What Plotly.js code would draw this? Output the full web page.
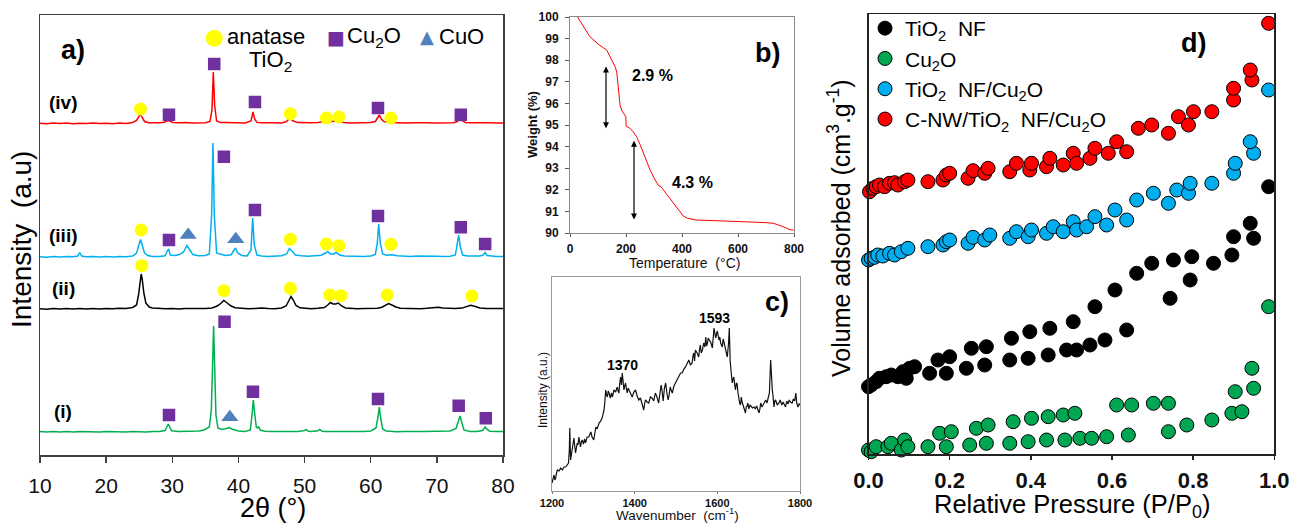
<!DOCTYPE html>
<html>
<head>
<meta charset="utf-8">
<script src="https://cdn.plot.ly/plotly-3.0.1.min.js"></script>
<style>html,body{margin:0;padding:0;background:#fff;}#chart{width:1292px;height:523px;}</style>
</head>
<body>
<div id="chart"></div>
<script>
// ---------- Panel a: XRD patterns (2theta, intensity with stacking offset) ----------
const xrd_i = [[10,23.5],[11,23.0],[12,23.6],[13,23.1],[14,23.4],[15,22.9],[16,23.5],[17,23.2],[18,23.6],[19,23.0],[20,23.4],[21,23.2],[22,23.7],[23,23.1],[24,23.5],[25,23.3],[26,23.0],[27,23.6],[28,23.4],[28.9,24.5],[29.2,28],[29.4,31],[29.6,28],[29.9,24.3],[31,23.5],[32,23.8],[33,23.4],[34,24.0],[34.8,25.0],[35.3,27],[35.6,28],[35.9,45],[36.1,100],[36.25,129],[36.4,90],[36.6,40],[36.9,27],[37.5,25.5],[38.2,26.5],[38.6,27.5],[39.0,26],[40,24.0],[41,23.6],[41.8,25],[42.05,40],[42.25,55],[42.45,42],[42.7,28],[42.9,27],[43.05,28.5],[43.3,25],[44,23.7],[45,23.4],[46,23.6],[47,23.2],[48,23.5],[49,23.4],[50.0,24.5],[50.2,25.5],[50.5,24],[51,23.5],[52,24.2],[52.3,25.5],[52.6,24.0],[53,23.5],[54,23.4],[55,23.6],[56,23.2],[57,23.5],[58,23.3],[59,23.6],[60,24],[60.8,27],[61.1,38],[61.3,48],[61.5,37],[61.8,26],[62.3,24],[63,23.5],[64,23.3],[65,23.6],[66,23.2],[67,23.5],[68,23.4],[69,23.6],[70,23.2],[71,23.5],[72,24],[72.9,26.5],[73.3,36],[73.5,39],[73.7,34],[74.1,25],[75,23.5],[76,23.6],[76.9,24.5],[77.3,28],[77.6,25.5],[78,23.8],[79,23.4],[80,23.5]];
const xrd_ii = [[10,146.3],[11,145.8],[12,146.5],[13,146.0],[14,146.4],[15,145.9],[16,146.5],[17,146.1],[18,146.6],[19,146.0],[20,146.5],[21,146.2],[22,146.7],[23,146.5],[24,147.5],[24.6,150],[24.9,160],[25.15,175],[25.3,181],[25.45,176],[25.7,162],[26.0,152],[26.5,148],[27,147],[28,146.5],[29,146.2],[30,146.6],[31,146.1],[32,146.5],[33,146.3],[34,146.6],[35,146.4],[36,147],[36.8,149],[37.4,152],[37.8,154.5],[38.3,152],[38.9,149],[39.5,147.3],[40.5,146.5],[41.5,146.2],[42.5,146.6],[43.5,147.0],[44.5,146.5],[45.5,146.3],[46.5,147],[47.2,149],[47.6,154],[47.95,158.5],[48.3,155],[48.7,149.5],[49.3,147.2],[50,146.6],[51,146.3],[52,146.7],[53,147.5],[53.5,150],[53.9,152.5],[54.3,151],[54.7,151],[55.1,152],[55.6,149],[56.2,147],[57,146.5],[58,146.3],[59,146.6],[60,146.4],[61,146.8],[61.7,147.8],[62.3,150],[62.7,151.5],[63.2,150],[63.8,148],[64.5,146.8],[65.5,146.4],[66.5,146.6],[67.5,146.3],[68.5,146.7],[69.5,147.2],[70.2,147.8],[70.9,147.0],[71.8,146.5],[72.8,146.6],[73.8,146.9],[74.5,148.3],[75.1,149.8],[75.7,148.8],[76.5,147],[77.5,146.5],[78.5,146.3],[79.3,146.6],[80,146.4]];
const xrd_iii = [[10,198.3],[11,197.8],[12,198.5],[13,198.0],[14,198.4],[15,198.2],[15.7,199],[16.0,202.5],[16.3,199],[17,198.2],[18,198.5],[19,198.0],[20,198.4],[21,198.1],[22,198.6],[23,198.3],[24,199],[24.6,202],[24.95,210],[25.2,215.5],[25.45,210],[25.8,202],[26.3,199.5],[27,198.6],[28,198.4],[28.9,199.2],[29.25,204],[29.45,206],[29.7,200],[30.3,199.5],[31.0,200.2],[31.7,203],[32.2,209.5],[32.6,206],[33.1,200.5],[34,199.3],[35,199.6],[35.6,201],[35.95,240],[36.15,312],[36.35,240],[36.7,202],[37.3,200.5],[38.0,199.5],[38.9,200.3],[39.3,204],[39.55,207],[39.9,202],[40.5,199.5],[41.3,199],[41.9,205],[42.15,237],[42.4,210],[42.8,200],[43.5,199],[44.5,198.6],[45.5,198.9],[46.5,199.2],[47.3,201],[47.7,206.5],[48.1,204],[48.6,200],[49.5,199.3],[50.5,198.8],[51.5,199.3],[52.5,199.8],[53.2,202],[53.5,203.5],[53.9,201],[54.4,201],[54.8,202.5],[55.3,200],[56,199],[57,198.7],[58,198.9],[59,198.6],[60,199],[60.7,200.5],[61.0,212],[61.2,231],[61.45,212],[61.8,201],[62.4,199.8],[63.2,200.2],[64,199.2],[65,198.8],[66,198.5],[67,198.9],[68,198.6],[69,198.4],[70,198.7],[71,198.5],[72,198.8],[72.8,200],[73.1,210],[73.3,220],[73.55,208],[73.9,200],[74.6,199],[75.5,198.8],[76.5,199],[77.0,200],[77.3,202.5],[77.6,199.5],[78.3,198.6],[79,198.4],[80,198.6]];
const xrd_iv = [[10,331.8],[11,331.2],[12,332.0],[13,331.4],[14,331.9],[15,331.3],[16,331.8],[17,331.5],[18,332.0],[19,331.4],[20,331.8],[21,331.3],[22,331.9],[23,331.6],[24,332.5],[24.6,334.5],[24.95,338.5],[25.2,340.5],[25.45,337.5],[25.8,333.5],[26.4,332.3],[27,332],[28,332.2],[28.8,332.8],[29.3,334.5],[29.6,334],[30.1,332.5],[31,332.2],[32,332.6],[33,332.1],[34,332.4],[35,332.3],[35.7,333.5],[36.0,345],[36.2,383],[36.4,350],[36.7,334],[37.3,332.4],[38,332.6],[39,332.2],[40,332.4],[41,332.1],[41.9,334],[42.2,343],[42.45,336],[42.8,332.6],[43.5,332.3],[44.5,331.9],[45.5,332.2],[46.5,332],[47.2,333.2],[47.75,336.5],[48.3,334],[49,332.4],[50,332],[51,332.3],[52,332.6],[52.7,333.2],[53.5,334],[54.2,333.6],[54.8,334],[55.4,333.2],[56,332.4],[57,332.1],[58,332.3],[59,332],[60,332.4],[60.7,333.5],[61.1,337.5],[61.3,340],[61.6,336],[62,333.5],[62.8,332.5],[63.5,332.2],[64.5,332.4],[65.5,332],[66.5,332.3],[67.5,331.9],[68.5,332.2],[69.5,332],[70.5,332.3],[71.5,331.9],[72.5,332.3],[73.1,333.5],[73.45,336.5],[73.8,334.5],[74.3,332.6],[75,332.2],[76,332.4],[77,332],[78,332.3],[79,331.9],[80,332.1]];
// phase markers (2theta, height)
const anataseX = [25.2,47.85,53.3,55.2,63.05, 25.3,47.85,53.3,55.2,63.05, 25.4,37.8,47.85,53.8,55.5,62.5,75.3];
const anataseY = [346,341.3,337,338,337, 225,215.7,211,209.3,210.7, 189.3,164.3,166.7,160,159.3,160,159];
const cu2oX = [29.5,36.34,42.5,61.1,73.62, 29.5,37.8,42.5,61.1,73.62,77.3, 29.5,37.9,42.2,61.1,73.3,77.4];
const cu2oY = [340.3,391,353,347,340.3, 215,298.3,245,239,227.7,211, 40,133.3,63.3,56,49.3,36.7];
const cuoX = [32.4,39.6,38.7];
const cuoY = [220,215.7,37.7];
const xrdLabels = ['(iv)','(iii)','(ii)','(i)'];
const xrdLabelY = [352,219,167,44];

// ---------- Panel b: TGA ----------
const tgaT = [27,45,71,100,131,149,161,167,170,174,179,186,196,199.5,200.5,205,214,226,238,250,262,274,286,300,316,325,333,350,369,387,405,420,440,452,500,550,607,650,700,726,745,760,774,785,798];
const tgaW = [100,99.6,99.09,98.75,98.47,98.01,97.7,97.45,97.1,96.5,95.9,95.65,95.46,95.38,94.95,94.92,94.85,94.68,94.46,94.1,93.69,93.3,92.92,92.55,92.2,92.14,92.0,91.7,91.37,91.05,90.78,90.68,90.62,90.6,90.58,90.56,90.53,90.52,90.48,90.45,90.38,90.3,90.22,90.16,90.13];
const tgaSteps = ['2.9 %','4.3 %'];

// ---------- Panel c: Raman ----------
const raman = [[1200,6],[1203,12],[1205,14],[1207,9],[1209,11],[1211,16],[1213,19],[1217,18],[1221,21],[1225,19],[1229,22],[1233,22],[1236,24],[1240,26],[1242,40],[1243,61],[1245,29],[1247,34],[1249,39],[1251,46],[1253,51],[1255,43],[1257,36],[1259,41],[1261,46],[1263,44],[1265,52],[1267,47],[1269,42],[1271,47],[1273,49],[1276,45],[1279,50],[1281,46],[1285,52],[1289,52],[1292,55],[1294,57],[1297,52],[1301,49],[1304,57],[1306,62],[1309,60],[1314,66],[1318,68],[1322,72],[1324,76],[1326,79],[1328,88],[1330,99],[1332,94],[1334,92],[1336,98],[1338,96],[1341,91],[1344,96],[1346,92],[1350,99],[1354,97],[1358,102],[1360,98],[1362,96],[1364,106],[1366,112],[1368,104],[1370,116],[1372,108],[1374,99],[1376,103],[1378,106],[1380,100],[1382,96],[1384,101],[1386,99],[1390,95],[1394,92],[1398,97],[1402,99],[1406,93],[1410,89],[1414,91],[1418,86],[1420,83],[1422,79],[1424,85],[1426,89],[1430,87],[1434,86],[1438,92],[1442,91],[1446,88],[1450,96],[1454,92],[1458,86],[1461,95],[1464,104],[1466,99],[1469,88],[1472,101],[1475,106],[1478,96],[1481,89],[1483,93],[1486,102],[1489,98],[1491,96],[1495,103],[1499,106],[1503,109],[1507,112],[1511,116],[1515,116],[1519,120],[1523,122],[1527,126],[1531,129],[1535,124],[1539,126],[1541,133],[1543,136],[1545,128],[1547,139],[1551,136],[1555,132],[1557,140],[1559,144],[1561,136],[1564,139],[1567,146],[1570,142],[1572,152],[1574,143],[1576,146],[1578,151],[1580,149],[1584,147],[1588,141],[1590,150],[1592,161],[1594,156],[1596,151],[1600,158],[1604,149],[1606,152],[1608,146],[1612,142],[1614,150],[1616,147],[1620,139],[1624,132],[1627,145],[1629,161],[1631,128],[1633,118],[1636,106],[1638,110],[1640,112],[1642,104],[1644,99],[1646,106],[1648,105],[1650,96],[1652,89],[1654,86],[1656,84],[1658,92],[1660,87],[1663,82],[1666,78],[1668,76],[1670,82],[1672,83],[1674,86],[1676,80],[1679,84],[1682,82],[1685,81],[1689,82],[1692,80],[1695,83],[1698,79],[1701,76],[1703,80],[1705,86],[1708,82],[1711,84],[1714,86],[1717,89],[1720,86],[1723,92],[1726,96],[1729,129],[1731,110],[1733,99],[1735,92],[1737,82],[1739,88],[1741,89],[1745,84],[1749,86],[1752,89],[1756,84],[1759,87],[1762,84],[1765,82],[1768,88],[1771,85],[1774,89],[1777,87],[1781,86],[1784,90],[1787,88],[1790,96],[1792,86],[1795,82],[1798,85],[1800,84]];
const ramanPeaks = [1370,1593];
const ramanPeakY = [124,171];

// ---------- Panel d: N2 isotherms (P/P0, volume with offset) ----------
const tio2P = [0.0,0.0066,0.0189,0.027,0.0436,0.056,0.0724,0.0848,0.093,0.1012,0.1136,0.1506,0.1712,0.1918,0.2,0.2412,0.2535,0.2864,0.2905,0.3481,0.3523,0.3934,0.3975,0.4428,0.4469,0.4881,0.5045,0.5128,0.5457,0.558,0.5827,0.6074,0.6362,0.6609,0.698,0.7432,0.7514,0.7926,0.7967,0.8502,0.8955,0.8996,0.9407,0.949,0.986];
const tio2V = [67.3,69,72.3,75.7,77.3,79,77.3,82.3,75.7,85.7,87.3,80.7,94,80.7,97.3,85.7,105.7,89,107.3,94,115.7,95.7,122.3,99,125.7,104,132.3,104,109,147.3,114,164,124,180.7,190.7,155.7,194,174,197.3,190.7,199,217.3,230.7,215.7,267.3];
const cu2oP = [0.0,0.0066,0.0189,0.0477,0.056,0.0807,0.0889,0.0971,0.1465,0.1753,0.1918,0.2041,0.2494,0.2658,0.2905,0.2947,0.3481,0.3564,0.3934,0.4016,0.4387,0.4428,0.484,0.4798,0.5086,0.521,0.5498,0.5868,0.6115,0.6403,0.6486,0.702,0.7391,0.7391,0.7844,0.8461,0.8955,0.9037,0.9202,0.949,0.9449,0.986];
const cu2oV = [4,2.3,7.3,7.3,10.7,4,14,7.3,7.3,20.7,7.3,22.3,9,25.7,10.7,29,10.7,32.3,12.3,35.7,14,37.3,14,39,40.7,15.7,15.7,17.3,49,19,49,50.7,22.3,50.7,29,34,40.7,62.3,42.3,65.7,85.7,147.3];
const compP = [0.0,0.0066,0.0148,0.023,0.0354,0.0519,0.0642,0.0807,0.0971,0.1465,0.1835,0.1918,0.2,0.2453,0.2576,0.2864,0.2988,0.3481,0.3646,0.3934,0.4016,0.4387,0.4551,0.4798,0.5045,0.5128,0.5374,0.558,0.5868,0.6074,0.6362,0.6609,0.702,0.7391,0.7597,0.7885,0.7926,0.8461,0.8996,0.9037,0.949,0.9407,0.986];
const compV = [194,195.7,196.7,199,198,200.7,199,202.3,205.7,207.3,209,212.3,214,210.7,216.7,214,219,215.7,222.3,217.3,224,220.7,227.3,222.3,232.3,224,227.3,237.3,229,244,234,254,260.7,250.7,264,260.7,270.7,270.7,280.7,290.7,300.7,312.3,364];
const cnwP = [0.0025,0.0107,0.0189,0.027,0.0395,0.0519,0.0642,0.0724,0.0889,0.0971,0.1465,0.1835,0.1918,0.2,0.2453,0.2576,0.2864,0.2947,0.3481,0.3646,0.3975,0.4016,0.4387,0.4469,0.4798,0.5045,0.5128,0.5457,0.558,0.5909,0.6115,0.6362,0.665,0.698,0.7391,0.7638,0.7885,0.8008,0.8461,0.8996,0.8996,0.9449,0.9407,0.986];
const cnwV = [262.3,265.7,267.3,269,267.3,270.7,271.3,269,272.3,274,272.3,274,279,280.7,275.7,283.3,280.7,285.7,282.3,290.7,284,290.7,287.3,295.7,289,300.7,290.7,295.7,305.7,300.7,312.3,302.3,325.7,329,320.7,337.3,329,342.3,342.3,354,365.7,374,384,430.7];
const seriesNames = ['TiO<sub>2</sub>\u00a0 NF','Cu<sub>2</sub>O','TiO<sub>2</sub>\u00a0 NF/Cu<sub>2</sub>O','C-NW/TiO<sub>2</sub>\u00a0 NF/Cu<sub>2</sub>O'];

// ---------- build ----------
const FONT = 'Liberation Sans, Arial, Helvetica, sans-serif';
const col = p => p.map(v => v[0]);
const val = p => p.map(v => v[1]);
const traces = [];
function line(p, color, xa, ya, w) {
  traces.push({x: col(p), y: val(p), mode: 'lines', line: {color: color, width: w || 1.5}, xaxis: xa, yaxis: ya, showlegend: false, hoverinfo: 'skip'});
}
line(xrd_iv, '#ff0000', 'x', 'y');
line(xrd_iii, '#00b0f0', 'x', 'y');
line(xrd_ii, '#000000', 'x', 'y');
line(xrd_i, '#00b050', 'x', 'y');
traces.push({x: anataseX, y: anataseY, mode: 'markers', marker: {symbol: 'circle', size: 13, color: '#ffff00'}, xaxis: 'x', yaxis: 'y', showlegend: false, cliponaxis: false});
traces.push({x: cu2oX, y: cu2oY, mode: 'markers', marker: {symbol: 'square', size: 11, color: '#7030a0', line: {color: '#7030a0', width: 1.5}}, xaxis: 'x', yaxis: 'y', showlegend: false, cliponaxis: false});
traces.push({x: cuoX, y: cuoY, mode: 'markers', marker: {symbol: 'triangle-up', size: 15, color: '#4f81bd'}, xaxis: 'x', yaxis: 'y', showlegend: false, cliponaxis: false});
traces.push({x: tgaT, y: tgaW, mode: 'lines', line: {color: '#ff0000', width: 1}, xaxis: 'x2', yaxis: 'y2', showlegend: false});
traces.push({x: col(raman), y: val(raman), mode: 'lines', line: {color: '#111111', width: 1.2}, xaxis: 'x3', yaxis: 'y3', showlegend: false});
const dSeries = [[tio2P, tio2V, '#000000'], [cu2oP, cu2oV, '#00a651'], [compP, compV, '#00aeef'], [cnwP, cnwV, '#ff0000']];
dSeries.forEach((s, i) => {
  traces.push({x: s[0], y: s[1], mode: 'markers', name: seriesNames[i], legendgroup: 'g' + i,
    marker: {symbol: 'circle', size: 14, color: s[2], line: {color: '#000000', width: 1}},
    xaxis: 'x4', yaxis: 'y4', cliponaxis: false});
});

const W = 1292, H = 523;
const px = x => x / W, py = y => 1 - y / H;
const frame = (c, w) => ({showline: true, mirror: true, linecolor: c, linewidth: w, showgrid: false, zeroline: false});
const ann = [];
function A(o) { ann.push(Object.assign({showarrow: false, xanchor: 'center', yanchor: 'middle', font: {family: FONT, size: 14, color: '#000'}}, o)); }

// panel a texts
A({xref: 'x', yref: 'y', x: 15, y: 405, text: 'a)', font: {family: FONT, size: 27, color: '#000', weight: 700}});
xrdLabels.forEach((t, i) => A({xref: 'x', yref: 'y', x: 13.5, y: xrdLabelY[i], text: t, font: {family: FONT, size: 19, color: '#000', weight: 700}}));
A({xref: 'x', yref: 'y', x: 36.4, y: 418, text: '●', font: {family: 'DejaVu Sans', size: 22, color: '#ffff00'}});
A({xref: 'x', yref: 'y', x: 44.2, y: 418, text: 'anatase', font: {family: FONT, size: 22, color: '#000'}});
A({xref: 'x', yref: 'y', x: 44.9, y: 394, text: 'TiO<sub>2</sub>', font: {family: FONT, size: 22, color: '#000'}});
A({xref: 'x', yref: 'y', x: 54.7, y: 418, text: '■', font: {family: 'DejaVu Sans', size: 19, color: '#7030a0'}});
A({xref: 'x', yref: 'y', x: 60.5, y: 418, text: 'Cu<sub>2</sub>O', font: {family: FONT, size: 22, color: '#000'}});
A({xref: 'x', yref: 'y', x: 68.5, y: 418, text: '▲', font: {family: 'DejaVu Sans', size: 18, color: '#4f81bd'}});
A({xref: 'x', yref: 'y', x: 73.65, y: 418, text: 'CuO', font: {family: FONT, size: 22, color: '#000'}});
A({xref: 'paper', yref: 'paper', x: px(272.5), y: py(508), text: '2θ (°)', font: {family: FONT, size: 27, color: '#000'}});
A({xref: 'paper', yref: 'paper', x: px(22), y: py(240), text: 'Intensity  (a.u)', textangle: -90, font: {family: FONT, size: 28, color: '#000'}});

// panel b texts
A({xref: 'x2', yref: 'y2', x: 296, y: 97.27, text: tgaSteps[0], font: {family: FONT, size: 16, color: '#000', weight: 700}});
A({xref: 'x2', yref: 'y2', x: 439, y: 92.36, text: tgaSteps[1], font: {family: FONT, size: 16, color: '#000', weight: 700}});
A({xref: 'x2', yref: 'y2', x: 704, y: 98.33, text: 'b)', font: {family: FONT, size: 27, color: '#000', weight: 700}});
const arrow = (x, y0, y1) => ({xref: 'x2', yref: 'y2', axref: 'x2', ayref: 'y2', x: x, y: y1, ax: x, ay: y0, text: '', showarrow: true,
  arrowhead: 2, startarrowhead: 2, arrowside: 'end+start', arrowsize: 1, startarrowsize: 1, arrowwidth: 1.2, arrowcolor: '#000'});
ann.push(arrow(128.6, 97.78, 94.85));
ann.push(arrow(228.6, 94.34, 90.63));
A({xref: 'paper', yref: 'paper', x: px(532), y: py(125), text: 'Weight (%)', textangle: -90, font: {family: FONT, size: 13, color: '#111', weight: 700}});
A({xref: 'paper', yref: 'paper', x: px(684), y: py(263), text: 'Temperature  (°C)', font: {family: FONT, size: 14, color: '#111'}});

// panel c texts
ramanPeaks.forEach((p, i) => A({xref: 'x3', yref: 'y3', x: p, y: ramanPeakY[i], text: String(p), font: {family: FONT, size: 14, color: '#000', weight: 700}}));
A({xref: 'x3', yref: 'y3', x: 1744, y: 187, text: 'c)', font: {family: FONT, size: 27, color: '#000', weight: 700}});
A({xref: 'paper', yref: 'paper', x: px(543), y: py(390), text: 'Intensity (a.u.)', textangle: -90, font: {family: FONT, size: 12, color: '#111'}});
A({xref: 'paper', yref: 'paper', x: px(678), y: py(514), text: 'Wavenumber  (cm<sup>-1</sup>)', font: {family: FONT, size: 13.5, color: '#111'}});

// panel d texts
A({xref: 'x4', yref: 'y4', x: 0.80, y: 411, text: 'd)', font: {family: FONT, size: 27, color: '#000', weight: 700}});
A({xref: 'paper', yref: 'paper', x: px(1072), y: py(506), text: 'Relative Pressure (P/P<sub>0</sub>)', font: {family: FONT, size: 25.5, color: '#000'}});
A({xref: 'paper', yref: 'paper', x: px(839), y: py(228), text: 'Volume adsorbed (cm<sup>3</sup>.g<sup>-1</sup>)', textangle: -90, font: {family: FONT, size: 25, color: '#000'}});

const layout = {
  width: W, height: H, margin: {l: 0, r: 0, t: 0, b: 0}, paper_bgcolor: '#fff', plot_bgcolor: 'rgba(0,0,0,0)',
  font: {family: FONT, color: '#000'},
  showlegend: true,
  legend: {x: px(865), y: py(8), xanchor: 'left', yanchor: 'top', bgcolor: 'rgba(0,0,0,0)', traceorder: 'grouped', tracegroupgap: 0,
    itemwidth: 30, font: {family: FONT, size: 21, color: '#000'}},
  xaxis: Object.assign(frame('#404040', 1.5), {domain: [px(40), px(503)], anchor: 'y', range: [10, 80], dtick: 10, ticks: 'outside', ticklen: 6, tickwidth: 1.5, tickcolor: '#404040', tickfont: {family: FONT, size: 21, color: '#111'}, ticklabelstandoff: 5}),
  yaxis: Object.assign(frame('#404040', 1.5), {domain: [py(455), py(15)], anchor: 'x', range: [0, 440], showticklabels: false, ticks: ''}),
  xaxis2: Object.assign(frame('#8a8a8a', 1), {domain: [px(570), px(794)], anchor: 'y2', range: [0, 800], dtick: 200, ticks: 'outside', ticklen: 3, tickcolor: '#555', tickfont: {family: FONT, size: 12, color: '#111', weight: 700}, ticklabelstandoff: 2}),
  yaxis2: Object.assign(frame('#8a8a8a', 1), {domain: [py(233), py(17)], anchor: 'x2', range: [90, 100], dtick: 1, ticks: 'outside', ticklen: 4, tickcolor: '#555', tickfont: {family: FONT, size: 12, color: '#111', weight: 700}, ticklabelstandoff: 4}),
  xaxis3: Object.assign(frame('#9a9a9a', 1), {domain: [px(552), px(800)], anchor: 'y3', range: [1200, 1800], dtick: 200, ticks: 'outside', ticklen: 2, tickcolor: '#777', tickfont: {family: FONT, size: 11, color: '#111', weight: 700}, ticklabelstandoff: 0}),
  yaxis3: Object.assign(frame('#9a9a9a', 1), {domain: [py(490.7), py(277.3)], anchor: 'x3', range: [-1.7, 211.7], showticklabels: false, ticks: ''}),
  xaxis4: Object.assign(frame('#222', 1.5), {domain: [px(868.5), px(1274.3)], anchor: 'y4', range: [0, 1], dtick: 0.2, tickformat: '.1f', ticks: 'outside', ticklen: 4, tickwidth: 1.5, tickcolor: '#222', tickfont: {family: FONT, size: 22, color: '#111', weight: 700}, ticklabelstandoff: 2}),
  yaxis4: Object.assign(frame('#222', 1.5), {domain: [py(454), py(14)], anchor: 'x4', range: [0, 440], showticklabels: false, ticks: ''}),
  annotations: ann
};
Plotly.newPlot('chart', traces, layout, {staticPlot: true, displayModeBar: false});
</script>
</body>
</html>
